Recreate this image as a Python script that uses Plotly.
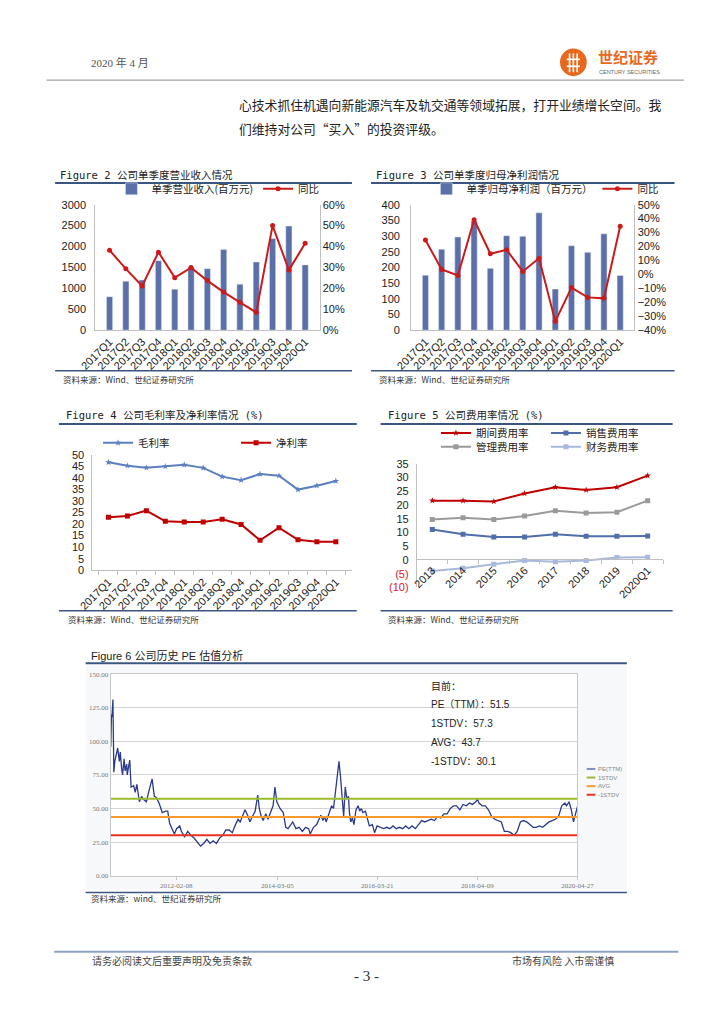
import plotly.graph_objects as go

W, H = 724, 1024
def px(x): return x / W
def py(y): return 1 - y / H

CJK = "Noto Sans CJK SC"
SANS = "Liberation Sans, Noto Sans CJK SC"
MONO = "DejaVu Sans Mono, Noto Sans CJK SC"
SERIF = "Liberation Serif, Noto Sans CJK SC"

# ---------------- data ----------------
quarters = ["2017Q1", "2017Q2", "2017Q3", "2017Q4", "2018Q1", "2018Q2", "2018Q3",
            "2018Q4", "2019Q1", "2019Q2", "2019Q3", "2019Q4", "2020Q1"]
revenue = [800, 1170, 1200, 1660, 980, 1510, 1470, 1930, 1100, 1630, 2190, 2490, 1560]
revenue_yoy = [38.2, 29.3, 21.1, 37.3, 25.1, 29.9, 23.7, 18.2, 13.3, 8.5, 50.0, 28.7, 41.5]
profit = [175, 258, 297, 348, 197, 301, 299, 374, 131, 269, 248, 307, 174]
profit_yoy = [24.6, 3.5, -0.8, 39.2, 14.8, 17.6, 2.1, 11.5, -33.7, -9.5, -16.5, -17.2, 34.5]
gross_margin = [46.7, 45.2, 44.4, 44.9, 45.6, 44.3, 40.5, 39.0, 41.6, 40.9, 34.9, 36.6, 38.6]
net_margin = [22.9, 23.5, 25.8, 21.2, 20.9, 20.9, 22.1, 19.8, 13.0, 18.4, 13.2, 12.3, 12.3]

years = ["2013", "2014", "2015", "2016", "2017", "2018", "2019", "2020Q1"]
period_exp = [21.6, 21.6, 21.3, 24.2, 26.5, 25.5, 26.5, 30.7]
sales_exp = [11.1, 9.4, 8.4, 8.4, 9.4, 8.6, 8.6, 8.7]
admin_exp = [14.7, 15.4, 14.7, 16.0, 17.9, 17.1, 17.4, 21.6]
fin_exp = [-4.0, -3.0, -1.6, -0.2, -0.7, -0.2, 0.9, 1.0]
fig5_ticks = [-10, -5, 0, 5, 10, 15, 20, 25, 30, 35]
fig5_ticktext = ['<span style="color:#e02020">(10)</span>', '<span style="color:#e02020">(5)</span>',
                 "0", "5", "10", "15", "20", "25", "30", "35"]

pe_dates = [
    "2010-10-06", "2010-10-11", "2010-10-15", "2010-10-22", "2010-10-29", "2010-11-05", "2010-11-15",
    "2010-11-27", "2010-12-09", "2010-12-16", "2010-12-26", "2011-01-02", "2011-01-14", "2011-01-21",
    "2011-02-02", "2011-02-06", "2011-02-18", "2011-02-25", "2011-03-07", "2011-03-26", "2011-04-07",
    "2011-04-19", "2011-05-08", "2011-05-25", "2011-06-05", "2011-06-29", "2011-07-16", "2011-07-30",
    "2011-08-11", "2011-08-28", "2011-09-13", "2011-10-02", "2011-10-26", "2011-11-19", "2011-12-06",
    "2011-12-20", "2012-01-06", "2012-01-25", "2012-02-10", "2012-03-05", "2012-03-17", "2012-04-10",
    "2012-05-04", "2012-05-27", "2012-06-20", "2012-07-14", "2012-08-07", "2012-08-31", "2012-09-24",
    "2012-10-17", "2012-11-10", "2012-12-04", "2012-12-28", "2013-01-21", "2013-02-13", "2013-03-09",
    "2013-04-02", "2013-04-26", "2013-05-15", "2013-05-31", "2013-07-06", "2013-07-30", "2013-08-11",
    "2013-09-04", "2013-09-20", "2013-10-09", "2013-10-21", "2013-11-02", "2013-11-19", "2013-12-08",
    "2013-12-25", "2014-01-13", "2014-02-01", "2014-02-15", "2014-03-01", "2014-03-25", "2014-04-18",
    "2014-05-07", "2014-05-24", "2014-06-28", "2014-07-22", "2014-08-15", "2014-09-08", "2014-10-02",
    "2014-10-25", "2014-11-06", "2014-11-30", "2014-12-24", "2015-01-24", "2015-02-09", "2015-02-21",
    "2015-03-05", "2015-03-29", "2015-04-15", "2015-04-29", "2015-05-09", "2015-05-28", "2015-06-09",
    "2015-06-20", "2015-07-02", "2015-07-14", "2015-07-26", "2015-08-07", "2015-08-19", "2015-08-26",
    "2015-09-05", "2015-09-17", "2015-09-29", "2015-10-14", "2015-10-30", "2015-11-11", "2015-11-23",
    "2015-12-05", "2015-12-24", "2016-01-10", "2016-01-22", "2016-02-14", "2016-03-01", "2016-03-20",
    "2016-04-13", "2016-05-07", "2016-05-31", "2016-06-23", "2016-07-17", "2016-08-10", "2016-09-03",
    "2016-09-27", "2016-10-20", "2016-11-13", "2016-12-07", "2016-12-31", "2017-01-24", "2017-02-16",
    "2017-03-12", "2017-04-05", "2017-04-29", "2017-05-23", "2017-06-15", "2017-07-09", "2017-08-02",
    "2017-08-26", "2017-09-19", "2017-10-13", "2017-11-05", "2017-11-29", "2017-12-23", "2018-01-16",
    "2018-02-09", "2018-03-04", "2018-03-28", "2018-04-09", "2018-04-21", "2018-05-15", "2018-06-08",
    "2018-07-01", "2018-07-25", "2018-08-18", "2018-09-11", "2018-10-05", "2018-10-28", "2018-11-21",
    "2018-12-15", "2019-01-08", "2019-02-01", "2019-02-25", "2019-03-20", "2019-04-13", "2019-05-07",
    "2019-05-31", "2019-06-24", "2019-07-17", "2019-08-10", "2019-09-03", "2019-09-27", "2019-10-21",
    "2019-11-13", "2019-12-07", "2019-12-31", "2020-01-24", "2020-02-05", "2020-02-24", "2020-03-12",
    "2020-03-28", "2020-04-12", "2020-04-27"]
pe_values = [
    96, 120, 118, 131, 77, 85, 91,
    95, 85, 92, 80, 75, 87, 78,
    83, 75, 82, 86, 66, 67, 62,
    68, 55, 59, 57, 55, 62, 67,
    72, 59, 58, 54, 47, 48, 48,
    39, 35, 31, 35, 37, 33, 29,
    33, 30, 28, 25, 22, 24, 27,
    24, 26, 24, 28, 30, 34, 34,
    32, 38, 42, 40, 49, 44, 40,
    45, 48, 60, 50, 45, 41, 46,
    42, 47, 52, 66, 55, 50, 47,
    36, 35, 40, 35, 36, 33, 36,
    35, 31, 36, 38, 45, 41, 44,
    40, 48, 52, 50, 58, 75, 85,
    74, 61, 44, 66, 57, 59, 47,
    40, 43, 38, 49, 52, 48, 50,
    47, 48, 42, 37, 38, 32, 37,
    36, 35, 36, 35, 37, 35, 36,
    35, 37, 35, 37, 35, 38, 41,
    40, 41, 42, 41, 44, 43, 46,
    46, 50, 52, 52, 49, 53, 52,
    54, 53, 55, 57, 54, 52, 52,
    49, 44, 42, 41, 40, 33, 33,
    32, 30, 33, 40, 41, 40, 38,
    36, 36, 37, 36, 38, 40, 41,
    42, 44, 52, 54, 52, 55, 49,
    40, 47, 51.5]
pe_tick_dates = ["2012-02-08", "2014-03-05", "2016-03-21", "2018-04-09", "2020-04-27"]
pe_stat_names = ["1STDV", "AVG", "-1STDV"]
pe_stat_values = [57.3, 43.7, 30.1]
pe_current = 51.5

# ---------------- colors ----------------
BAR = "#5b6fa8"
RED = "#cc1a1a"
BLUE4 = "#5b7fc0"
F5_RED = "#c00000"
F5_BLUE = "#4f6eaa"
F5_GREY = "#9a9a9a"
F5_LBLUE = "#a9b9dc"
PE_BLUE = "#2b3a8c"
STAT_COLORS = ["#9abb2e", "#f79a2e", "#e8321e"]
RULE = "#3a5680"
AXIS = "#bfbfbf"

fig = go.Figure()

# Figure 2
fig.add_trace(go.Bar(x=quarters, y=revenue, name="单季营业收入(百万元)", marker_color=BAR,
                     xaxis="x", yaxis="y", legend="legend"))
fig.add_trace(go.Scatter(x=quarters, y=revenue_yoy, name="同比", mode="lines+markers",
                         line=dict(color=RED, width=2), marker=dict(size=5, color=RED),
                         xaxis="x", yaxis="y2", legend="legend"))
# Figure 3
fig.add_trace(go.Bar(x=quarters, y=profit, name="单季归母净利润（百万元）", marker_color=BAR,
                     xaxis="x2", yaxis="y3", legend="legend2"))
fig.add_trace(go.Scatter(x=quarters, y=profit_yoy, name="同比", mode="lines+markers",
                         line=dict(color=RED, width=2), marker=dict(size=5, color=RED),
                         xaxis="x2", yaxis="y4", legend="legend2"))
# Figure 4
fig.add_trace(go.Scatter(x=quarters, y=gross_margin, name="毛利率", mode="lines+markers",
                         line=dict(color=BLUE4, width=2), marker=dict(size=5, symbol="star", color=BLUE4),
                         xaxis="x3", yaxis="y5", legend="legend3"))
fig.add_trace(go.Scatter(x=quarters, y=net_margin, name="净利率", mode="lines+markers",
                         line=dict(color=F5_RED, width=2), marker=dict(size=5, symbol="square", color=F5_RED),
                         xaxis="x3", yaxis="y5", legend="legend3"))
# Figure 5
fig.add_trace(go.Scatter(x=years, y=period_exp, name="期间费用率", mode="lines+markers",
                         line=dict(color=F5_RED, width=2), marker=dict(size=5, symbol="star", color=F5_RED),
                         xaxis="x4", yaxis="y6", legend="legend4"))
fig.add_trace(go.Scatter(x=years, y=sales_exp, name="销售费用率", mode="lines+markers",
                         line=dict(color=F5_BLUE, width=2), marker=dict(size=5, symbol="square", color=F5_BLUE),
                         xaxis="x4", yaxis="y6", legend="legend4"))
fig.add_trace(go.Scatter(x=years, y=admin_exp, name="管理费用率", mode="lines+markers",
                         line=dict(color=F5_GREY, width=2), marker=dict(size=5, symbol="square", color=F5_GREY),
                         xaxis="x4", yaxis="y6", legend="legend5"))
fig.add_trace(go.Scatter(x=years, y=fin_exp, name="财务费用率", mode="lines+markers",
                         line=dict(color=F5_LBLUE, width=2), marker=dict(size=5, symbol="square", color=F5_LBLUE),
                         xaxis="x4", yaxis="y6", legend="legend5"))
# Figure 6
fig.add_trace(go.Scatter(x=pe_dates, y=pe_values, name="PE(TTM)", mode="lines",
                         line=dict(color=PE_BLUE, width=1.3), xaxis="x5", yaxis="y7", showlegend=False))
for nm, val, col in zip(pe_stat_names, pe_stat_values, STAT_COLORS):
    fig.add_trace(go.Scatter(x=[pe_dates[0], pe_dates[-1]], y=[val, val], name=nm, mode="lines",
                             line=dict(color=col, width=2), xaxis="x5", yaxis="y7", showlegend=False))

tickf = dict(family="Liberation Sans", size=11, color="#222")
catx = dict(type="category", tickangle=-45, tickfont=tickf, showline=True, linecolor=AXIS,
            showgrid=False, zeroline=False, ticks="")
ybase = dict(showgrid=False, zeroline=False, showline=True, linecolor=AXIS, tickfont=tickf, ticks="")

legfont = dict(family=CJK, size=10.5, color="#222")
legbase = dict(orientation="h", xanchor="left", yanchor="middle", bgcolor="rgba(0,0,0,0)",
               font=legfont, itemwidth=30)

fig.update_layout(
    width=W, height=H, autosize=False, margin=dict(l=0, r=0, t=0, b=0),
    paper_bgcolor="white", plot_bgcolor="rgba(0,0,0,0)", bargap=0.62,
    xaxis=dict(catx, domain=[px(83), px(318)], anchor="y"),
    yaxis=dict(ybase, domain=[py(328), py(201)], range=[0, 3000], dtick=500, anchor="x", ticklabelstandoff=6),
    yaxis2=dict(ybase, overlaying="y", side="right", anchor="x", range=[0, 60], dtick=10, ticksuffix="%"),
    xaxis2=dict(catx, domain=[px(414), px(648)], anchor="y3"),
    yaxis3=dict(ybase, domain=[py(328), py(201)], range=[0, 400], dtick=50, anchor="x2", ticklabelstandoff=8),
    yaxis4=dict(ybase, overlaying="y3", side="right", anchor="x2", range=[-40, 50], dtick=10, ticksuffix="%"),
    xaxis3=dict(catx, domain=[px(80), px(352)], anchor="y5", ticks="outside", tickson="boundaries",
                ticklen=4, tickcolor=AXIS),
    yaxis5=dict(ybase, domain=[py(571), py(454)], range=[0, 50], dtick=5, anchor="x3", ticklabelstandoff=5),
    xaxis4=dict(catx, domain=[px(420), px(678)], anchor="free", position=py(559.3), ticks="outside",
                tickson="boundaries", ticklen=4, tickcolor=AXIS),
    yaxis6=dict(ybase, domain=[py(588.3), py(463.3)], range=[-10, 35], tickvals=fig5_ticks,
                ticktext=fig5_ticktext, anchor="x4", ticklabelstandoff=5),
    xaxis5=dict(type="date", domain=[px(99.3), px(588.3)], anchor="y7", range=[pe_dates[0], pe_dates[-1]],
                tickvals=pe_tick_dates, ticktext=pe_tick_dates, showline=True, mirror=True, linecolor="#c8c8c8",
                showgrid=False, ticks="outside", ticklen=3, tickcolor="#c8c8c8",
                tickfont=dict(family="Liberation Serif", size=7, color="#777")),
    yaxis7=dict(domain=[py(880), py(676)], range=[0, 150], dtick=25, tickformat=".2f", anchor="x5",
                showgrid=True, gridcolor="#d4d4d4", showline=True, mirror=True, linecolor="#c8c8c8",
                zeroline=False, ticks="", tickfont=dict(family="Liberation Serif", size=7, color="#777")),
    legend=dict(legbase, x=px(100), y=py(185)),
    legend2=dict(legbase, x=px(430), y=py(185)),
    legend3=dict(legbase, x=px(86), y=py(442), entrywidth=93),
    legend4=dict(legbase, x=px(440), y=py(432), entrywidth=65),
    legend5=dict(legbase, x=px(440), y=py(446), entrywidth=65),
)

shapes = []
def hline(x0, x1, y, color, width):
    shapes.append(dict(type="line", xref="paper", yref="paper", x0=px(x0), x1=px(x1), y0=py(y), y1=py(y),
                       line=dict(color=color, width=width)))

# header / footer rules
hline(32, 700, 75, "#8c8c8c", 1)
hline(40, 694, 957, "#8fa2c4", 2)
# figure rules
hline(41, 352, 179, RULE, 2); hline(41, 352, 369, RULE, 1.5)
hline(372, 690, 179, RULE, 2); hline(372, 690, 369, RULE, 1.5)
hline(45, 357, 423, RULE, 2); hline(45, 357, 612, RULE, 1.5)
hline(382, 688, 423, RULE, 2); hline(382, 688, 612, RULE, 1.5)
hline(73, 640, 665, RULE, 2); hline(73, 640, 897, RULE, 1.5)
# figure 6 chart background
shapes.append(dict(type="rect", xref="paper", yref="paper", x0=px(73), x1=px(640), y0=py(894), y1=py(667),
                   fillcolor="#f7f8fa", line=dict(width=0), layer="below"))
shapes.append(dict(type="rect", xref="paper", yref="paper", x0=px(99.3), x1=px(588.3), y0=py(880), y1=py(676),
                   fillcolor="white", line=dict(width=0), layer="below"))
# figure 6 legend swatches
for i, col in enumerate(["#7f8fc4"] + STAT_COLORS):
    yy = 772 + i * 8.7
    hline(598, 607, yy, col, 2)
# logo
shapes.append(dict(type="circle", xref="paper", yref="paper", x0=px(570), x1=px(598), y0=py(71), y1=py(43),
                   fillcolor="#e8681e", line=dict(width=0)))
for xx in (580, 584, 588):
    shapes.append(dict(type="line", xref="paper", yref="paper", x0=px(xx), x1=px(xx), y0=py(48), y1=py(67),
                       line=dict(color="white", width=1.6)))
hline(577, 591, 54, "white", 1.6)
hline(577, 591, 61, "white", 1.6)
fig.update_layout(shapes=shapes)

anns = []
def ann(x, y, text, size=10, color="#222", family=CJK, xanchor="left", yanchor="middle"):
    anns.append(dict(x=px(x), y=py(y), xref="paper", yref="paper", text=text, showarrow=False,
                     xanchor=xanchor, yanchor=yanchor, font=dict(size=size, color=color, family=family)))

ann(77, 57, "2020 年 4 月", 11, "#555", SERIF)
ann(608, 51, "<b>世纪证券</b>", 15, "#e8681e", CJK)
ann(609, 67, "CENTURY SECURITIES", 5.5, "#666", "Liberation Sans")
ann(232, 100, "心技术抓住机遇向新能源汽车及轨交通等领域拓展，打开业绩增长空间。我", 12.8, "#222", CJK)
ann(232, 124, "们维持对公司“买入”的投资评级。", 12.8, "#222", CJK)

ann(44, 171, "Figure 2 公司单季度营业收入情况", 10.5, "#222", MONO)
ann(375, 171, "Figure 3 公司单季度归母净利润情况", 10.5, "#222", MONO)
ann(50, 414, "Figure 4 公司毛利率及净利率情况 (%)", 10.5, "#222", MONO)
ann(388, 414, "Figure 5 公司费用率情况 (%)", 10.5, "#222", MONO)
ann(76, 657, "Figure 6 公司历史 PE 估值分析", 11, "#222", SANS)

src = "资料来源：Wind、世纪证券研究所"
ann(47, 377, src, 8.5, "#333", CJK)
ann(378, 377, src, 8.5, "#333", CJK)
ann(52, 620, src, 8.5, "#333", CJK)
ann(388, 620, src, 8.5, "#333", CJK)
ann(76, 903, "资料来源：wind、世纪证券研究所", 8.5, "#333", CJK)

ann(433, 688, "目前：", 10, "#222", SANS)
ann(433, 707, f"PE（TTM）：{pe_current}", 10, "#222", SANS)
for i, (nm, val) in enumerate(zip(pe_stat_names, pe_stat_values)):
    ann(433, 726 + i * 19.3, f"{nm}：{val}", 10, "#222", SANS)
for i, nm in enumerate(["PE(TTM)"] + pe_stat_names):
    ann(608, 772 + i * 8.7, nm, 6, "#888", "Liberation Sans")

ann(78, 966, "请务必阅读文后重要声明及免责条款", 10, "#444", CJK)
ann(518, 966, "市场有风险 入市需谨慎", 10, "#444", CJK)
ann(367, 981, "- 3 -", 15, "#333", SERIF, xanchor="center")
fig.update_layout(annotations=anns)

fig.write_html("out.html", config={"displayModeBar": False},
               post_script="document.body.style.margin='0';")
